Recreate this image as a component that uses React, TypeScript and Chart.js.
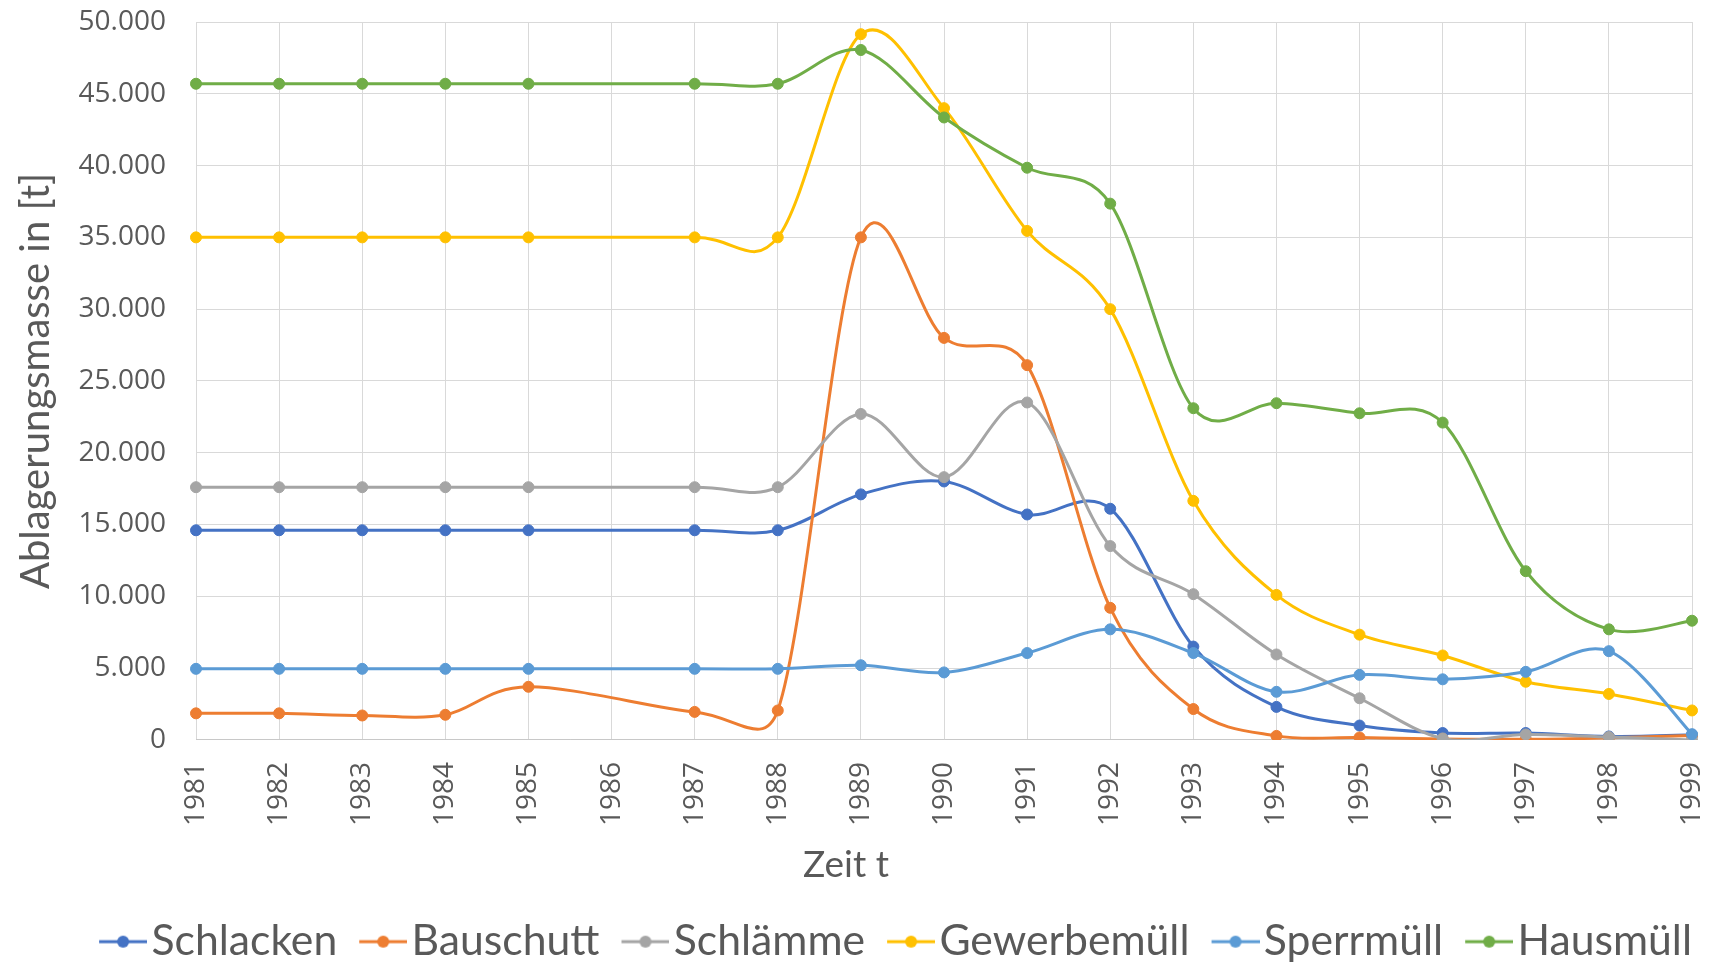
import React, { useEffect, useRef } from 'react';
import { Chart, registerables } from 'chart.js';

Chart.register(...registerables);

// ---------- data ----------
const years = ['1981', '1982', '1983', '1984', '1985', '1986', '1987', '1988', '1989', '1990', '1991', '1992', '1993', '1994', '1995', '1996', '1997', '1998', '1999'];

const schlacken = [14600, 14600, 14600, 14600, 14600, null, 14600, 14600, 17100, 18000, 15700, 16100, 6500, 2300, 1000, 480, 480, 240, 350];
const bauschutt = [1850, 1850, 1700, 1750, 3700, null, 1950, 2050, 35000, 28000, 26100, 9200, 2150, 280, 170, 70, 40, 150, 300];
const schlaemme = [17600, 17600, 17600, 17600, 17600, null, 17600, 17600, 22700, 18300, 23500, 13500, 10150, 5950, 2900, 100, 380, 200, 0];
const gewerbemuell = [35000, 35000, 35000, 35000, 35000, null, 35000, 35000, 49150, 44000, 35450, 30000, 16650, 10100, 7330, 5880, 4050, 3200, 2050];
const sperrmuell = [4950, 4950, 4950, 4950, 4950, null, 4950, 4950, 5200, 4700, 6050, 7700, 6050, 3350, 4530, 4220, 4740, 6180, 400];
const hausmuell = [45700, 45700, 45700, 45700, 45700, null, 45700, 45700, 48050, 43350, 39850, 37350, 23100, 23450, 22750, 22100, 11750, 7700, 8300];

const seriesNames = ['Schlacken', 'Bauschutt', 'Schlämme', 'Gewerbemüll', 'Sperrmüll', 'Hausmüll'];
const seriesData = [schlacken, bauschutt, schlaemme, gewerbemuell, sperrmuell, hausmuell];
const seriesColors = ['#4472C4', '#ED7D31', '#A5A5A5', '#FFC000', '#5B9BD5', '#70AD47'];

const yMin = 0;
const yMax = 50000;
const yStep = 5000;

const xTitle = 'Zeit t';
const yTitle = 'Ablagerungsmasse in [t]';

const textColor = '#595959';
const gridColor = '#d9d9d9';

function formatThousands(v: number): string {
  return String(v).replace(/\B(?=(\d{3})+(?!\d))/g, '.');
}

// Excel-like smoothing (Catmull-Rom 1/6 tangent, capped at half of the adjacent segment)
const excelSmooth = {
  id: 'excelSmooth',
  beforeDatasetDraw(chart: any, args: any) {
    const meta = args.meta;
    const line = meta.dataset;
    if (!line) return;
    if (typeof line.updateControlPoints === 'function') {
      line.updateControlPoints(chart.chartArea, meta.iScale ? meta.iScale.axis : 'x');
    }
    const pts = meta.data.filter((p: any) => !p.skip);
    const n = pts.length;
    for (let i = 0; i < n; i++) {
      const p = pts[i];
      const prev = pts[Math.max(i - 1, 0)];
      const next = pts[Math.min(i + 1, n - 1)];
      const tx = (next.x - prev.x) / 6;
      const ty = (next.y - prev.y) / 6;
      const tl = Math.hypot(tx, ty) || 1;
      const dPrev = Math.hypot(p.x - prev.x, p.y - prev.y);
      const dNext = Math.hypot(next.x - p.x, next.y - p.y);
      const s1 = Math.min(1, (dPrev / 2) / tl);
      const s2 = Math.min(1, (dNext / 2) / tl);
      p.cp1x = p.x - tx * s1;
      p.cp1y = p.y - ty * s1;
      p.cp2x = p.x + tx * s2;
      p.cp2y = p.y + ty * s2;
    }
    line._pointsUpdated = true;
    line._path = undefined;
  },
};

function makeLegendMarker(color: string): HTMLCanvasElement {
  const c = document.createElement('canvas');
  c.width = 87;
  c.height = 16;
  const ctx = c.getContext('2d')!;
  const x0 = 39;
  ctx.strokeStyle = color;
  ctx.lineWidth = 3;
  ctx.beginPath();
  ctx.moveTo(x0, 8);
  ctx.lineTo(x0 + 48, 8);
  ctx.stroke();
  ctx.fillStyle = color;
  ctx.beginPath();
  ctx.arc(x0 + 24, 8, 6, 0, Math.PI * 2);
  ctx.fill();
  return c;
}

function zeroPadding(s: any) {
  s.paddingLeft = 0;
  s.paddingRight = 0;
  s.paddingTop = 0;
  s.paddingBottom = 0;
}

export default function App() {
  const canvasRef = useRef<HTMLCanvasElement | null>(null);

  useEffect(() => {
    document.body.style.margin = '0';
    const canvas = canvasRef.current;
    if (!canvas) return;
    const markers = seriesColors.map((c) => makeLegendMarker(c));

    const datasets = seriesNames.map((name, i) => ({
      label: name,
      data: seriesData[i],
      borderColor: seriesColors[i],
      backgroundColor: seriesColors[i],
      pointBackgroundColor: seriesColors[i],
      pointBorderColor: seriesColors[i],
      pointBorderWidth: 1,
      pointRadius: 5.5,
      borderWidth: 3,
      tension: 0.33,
      spanGaps: true,
      fill: false,
      order: -i,
    }));

    const chart = new Chart(canvas, {
      type: 'line',
      data: { labels: years, datasets },
      plugins: [excelSmooth],
      options: {
        animation: false,
        responsive: true,
        maintainAspectRatio: false,
        layout: { padding: { top: 22, left: 0, right: 19, bottom: -8 } },
        plugins: {
          tooltip: { enabled: false },
          legend: {
            position: 'bottom',
            align: 'end',
            labels: {
              usePointStyle: true,
              pointStyleWidth: 53,
              padding: 0,
              color: textColor,
              font: { family: 'Lato', size: 42.7 },
              sort: (a: any, b: any) => a.datasetIndex - b.datasetIndex,
              generateLabels: (ch: any) => {
                const items = (Chart as any).defaults.plugins.legend.labels.generateLabels(ch);
                return items.map((it: any) => ({ ...it, pointStyle: markers[it.datasetIndex], fontColor: textColor }));
              },
            },
          },
          subtitle: {
            display: true,
            text: xTitle,
            position: 'bottom',
            weight: 500,
            color: textColor,
            font: { family: 'Lato', size: 37, weight: 'normal' },
            padding: { top: 3, bottom: 33 },
          },
        },
        scales: {
          x: {
            type: 'category',
            offset: false,
            grid: { color: gridColor, lineWidth: 1, drawTicks: false },
            border: { color: '#c8c8c8', width: 1 },
            ticks: {
              autoSkip: false,
              maxRotation: 90,
              minRotation: 90,
              padding: 22,
              color: textColor,
              font: { family: 'Open Sans', size: 28 },
            },
            afterFit: (s: any) => {
              s.height = 100;
              zeroPadding(s);
            },
          },
          y: {
            min: yMin,
            max: yMax,
            grid: { color: gridColor, lineWidth: 1, drawTicks: false },
            border: { display: false },
            ticks: {
              stepSize: yStep,
              padding: 30,
              color: textColor,
              font: { family: 'Open Sans', size: 28 },
              callback: (v: any) => formatThousands(Number(v)),
            },
            title: {
              display: true,
              text: yTitle,
              color: textColor,
              font: { family: 'Lato', size: 40 },
              padding: { top: 12, bottom: 0 },
            },
            afterFit: (s: any) => {
              s.width = 196;
              zeroPadding(s);
            },
          },
        },
      } as any,
    });

    return () => {
      chart.destroy();
    };
  }, []);

  return (
    <div style={{ position: 'fixed', left: 0, top: 0, width: '1711px', height: '965px', background: '#ffffff' }}>
      <canvas ref={canvasRef} />
    </div>
  );
}
